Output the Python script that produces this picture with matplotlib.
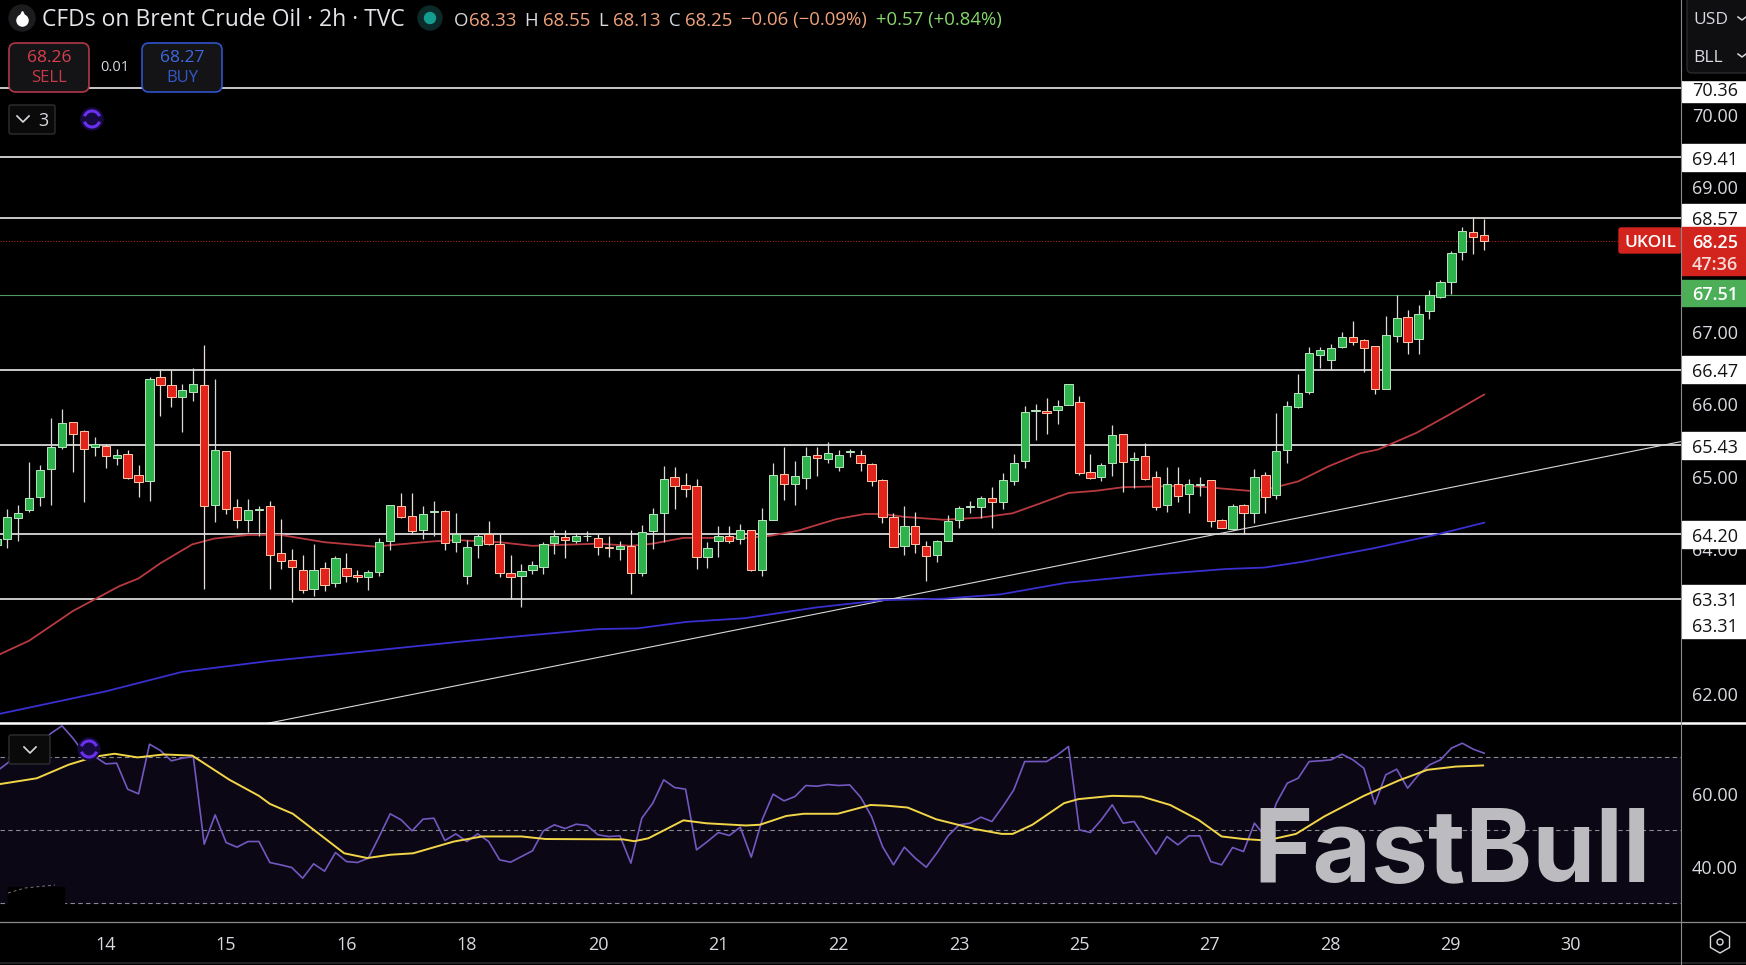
import matplotlib
matplotlib.use('Agg')
import matplotlib.pyplot as plt
from matplotlib.patches import FancyBboxPatch, Rectangle, Circle, RegularPolygon, Arc
import numpy as np

plt.rcParams['font.family'] = ['Open Sans', 'DejaVu Sans']

W, H = 1746, 965

# candles, one row per 2h bar
opens = [64.05, 64.13, 64.43, 64.54, 64.71, 65.10, 65.41, 65.75, 65.63, 65.40, 65.42, 65.26, 65.31, 65.02, 64.93, 66.37, 66.26, 66.10, 66.17, 66.26,
         64.60, 65.35, 64.57, 64.39, 64.54, 64.59, 63.94, 63.85, 63.71, 63.44, 63.73, 63.52, 63.73, 63.64, 63.61, 63.68, 64.10, 64.59, 64.45, 64.26,
         64.51, 64.52, 64.09, 63.62, 64.05, 64.20, 64.07, 63.67, 63.63, 63.70, 63.75, 64.08, 64.16, 64.11, 64.17, 64.15, 64.02, 64.00, 64.04, 63.67,
         64.25, 64.49, 64.99, 64.88, 64.86, 63.89, 64.10, 64.18, 64.13, 64.26, 63.71, 64.40, 65.03, 64.90, 64.98, 65.30, 65.24, 65.13, 65.34, 65.30,
         65.17, 64.95, 64.44, 64.04, 64.32, 64.04, 63.92, 64.11, 64.39, 64.58, 64.58, 64.70, 64.65, 64.94, 65.21, 65.90, 65.90, 65.91, 65.99, 66.02,
         65.06, 64.99, 65.18, 65.58, 65.23, 65.28, 64.99, 64.60, 64.90, 64.75, 64.88, 64.95, 64.39, 64.27, 64.60, 64.50, 65.02, 64.74, 65.37, 65.96,
         66.16, 66.68, 66.61, 66.78, 66.92, 66.88, 66.80, 66.21, 66.94, 67.20, 66.89, 67.28, 67.47, 67.69, 68.10, 68.37, 68.33]
highs = [64.24, 64.55, 64.60, 65.20, 65.16, 65.80, 65.93, 65.75, 65.64, 65.54, 65.45, 65.38, 65.37, 65.16, 66.37, 66.47, 66.47, 66.28, 66.50, 66.82,
         66.34, 65.35, 64.68, 64.69, 64.59, 64.66, 64.41, 63.99, 63.92, 64.06, 63.82, 63.90, 63.94, 63.70, 63.70, 64.15, 64.60, 64.77, 64.77, 64.59,
         64.66, 64.53, 64.49, 64.12, 64.20, 64.38, 64.21, 63.92, 63.79, 63.83, 64.09, 64.26, 64.26, 64.22, 64.25, 64.21, 64.17, 64.11, 64.26, 64.33,
         64.56, 65.14, 65.13, 65.04, 64.96, 64.09, 64.31, 64.31, 64.34, 64.26, 64.56, 65.18, 65.41, 65.21, 65.41, 65.40, 65.47, 65.36, 65.38, 65.36,
         65.19, 64.96, 64.49, 64.59, 64.51, 64.11, 64.12, 64.47, 64.59, 64.66, 64.73, 64.85, 65.05, 65.31, 65.97, 66.00, 66.08, 66.06, 66.28, 66.11,
         65.31, 65.19, 65.71, 65.58, 65.34, 65.46, 65.07, 65.13, 65.13, 64.96, 64.99, 64.95, 64.41, 64.62, 64.62, 65.10, 65.06, 65.88, 66.04, 66.41,
         66.78, 66.78, 66.83, 67.00, 67.14, 66.89, 66.80, 67.21, 67.50, 67.30, 67.36, 67.58, 67.71, 68.11, 68.45, 68.58, 68.55]
lows = [63.99, 64.01, 64.10, 64.51, 64.59, 64.61, 65.38, 65.06, 64.64, 65.28, 65.12, 65.15, 64.96, 64.71, 64.66, 65.83, 65.96, 65.61, 66.04, 63.44,
        64.37, 64.48, 64.28, 64.23, 64.18, 63.45, 63.72, 63.27, 63.39, 63.35, 63.42, 63.47, 63.54, 63.54, 63.43, 63.62, 63.98, 64.42, 64.21, 64.14,
        64.18, 63.98, 63.96, 63.51, 63.87, 64.05, 63.61, 63.31, 63.20, 63.65, 63.65, 63.93, 63.87, 64.08, 64.11, 63.91, 63.88, 63.85, 63.37, 63.63,
        63.99, 64.09, 64.55, 64.72, 63.72, 63.74, 63.89, 64.08, 64.07, 63.69, 63.62, 64.39, 64.67, 64.61, 64.83, 65.00, 65.19, 65.08, 65.27, 65.08,
        64.87, 64.35, 64.03, 63.91, 63.94, 63.55, 63.82, 64.10, 64.28, 64.50, 64.43, 64.29, 64.55, 64.88, 65.11, 65.50, 65.59, 65.72, 65.99, 65.02,
        64.97, 64.94, 65.01, 64.78, 64.84, 64.95, 64.54, 64.51, 64.65, 64.49, 64.73, 64.30, 64.28, 64.26, 64.20, 64.35, 64.50, 64.69, 65.18, 65.94,
        66.14, 66.50, 66.47, 66.77, 66.82, 66.44, 66.14, 66.20, 66.85, 66.69, 66.69, 67.17, 67.46, 67.52, 67.99, 68.07, 68.13]
closes = [64.14, 64.44, 64.50, 64.70, 65.09, 65.41, 65.74, 65.59, 65.38, 65.45, 65.28, 65.30, 64.98, 64.92, 66.34, 66.26, 66.09, 66.19, 66.27, 64.59,
          65.37, 64.55, 64.39, 64.54, 64.55, 63.91, 63.83, 63.75, 63.43, 63.70, 63.50, 63.87, 63.62, 63.61, 63.68, 64.09, 64.60, 64.44, 64.24, 64.48,
          64.51, 64.08, 64.20, 64.03, 64.18, 64.06, 63.67, 63.61, 63.69, 63.77, 64.07, 64.17, 64.12, 64.18, 64.18, 64.03, 64.01, 64.04, 63.66, 64.23,
          64.48, 64.96, 64.86, 64.83, 63.88, 64.01, 64.18, 64.11, 64.26, 63.70, 64.39, 65.02, 64.89, 65.00, 65.28, 65.26, 65.32, 65.30, 65.34, 65.18,
          64.94, 64.44, 64.03, 64.31, 64.07, 63.90, 64.10, 64.38, 64.56, 64.58, 64.70, 64.64, 64.95, 65.18, 65.89, 65.90, 65.88, 65.97, 66.28, 65.05,
          64.98, 65.16, 65.57, 65.20, 65.25, 64.97, 64.58, 64.90, 64.73, 64.90, 64.88, 64.38, 64.29, 64.59, 64.50, 64.99, 64.72, 65.35, 65.97, 66.15,
          66.70, 66.74, 66.77, 66.93, 66.86, 66.77, 66.20, 66.95, 67.18, 66.86, 67.24, 67.51, 67.68, 68.08, 68.39, 68.30, 68.25]

# moving averages and trend line (bar index, price)
ma_red_x = [0, 3, 7, 9.1, 11.2, 13, 15, 17.9, 19.9, 23, 26, 30, 34.6, 39.8, 42, 46, 49, 55, 58, 60, 62.8, 65.6, 68.7, 70.8, 73.3, 76.8, 79.4, 81, 83, 86.6,
            90, 92.9, 95.3, 98, 100.5, 103, 105.8, 109, 114.5, 115.9, 119, 121.8, 124.7, 126.3, 129.8, 132.9, 136]
ma_red_y = [62.52, 62.73, 63.14, 63.31, 63.48, 63.59, 63.80, 64.06, 64.14, 64.19, 64.19, 64.09, 64.03, 64.10, 64.12, 64.09, 64.04, 64.07, 64.04, 64.07, 64.15, 64.15, 64.15, 64.18, 64.25, 64.41, 64.48, 64.48, 64.44, 64.40,
            64.43, 64.49, 64.62, 64.77, 64.80, 64.85, 64.86, 64.87, 64.80, 64.81, 64.93, 65.14, 65.32, 65.37, 65.60, 65.86, 66.13]
ma_blue_x = [0, 10, 17, 25, 31, 43.3, 55, 58.6, 63.1, 68.4, 75, 81, 86.6, 91.8, 97.8, 105.5, 112.4, 115.9, 119.4, 126, 131.5, 136]
ma_blue_y = [61.71, 62.03, 62.30, 62.45, 62.54, 62.73, 62.89, 62.90, 62.99, 63.04, 63.19, 63.29, 63.31, 63.37, 63.53, 63.64, 63.72, 63.74, 63.82, 64.01, 64.19, 64.36]
trend_x = [24.5, 154]
trend_y = [61.58, 65.48]

levels = [70.36, 69.41, 68.57, 66.47, 65.43, 64.20, 63.31]
level_labels = ['70.36', '69.41', '68.57', '66.47', '65.43', '64.20', '63.31']
price_ticks = [70, 69, 67, 66, 65, 64, 62]
last_price = 68.25
green_level = 67.51

# RSI pane
rsi = [65.94, 68.2, 70.95, 71.86, 73.68, 76.4, 78.42, 75.05, 70.95, 70.04, 68.03, 68.22, 61.12, 59.84, 73.41, 71.68, 68.86, 69.58, 70.04, 46.09,
       54.1, 46.54, 45.27, 46.82, 46.82, 41.08, 40.44, 39.71, 36.8, 40.72, 38.71, 43.81, 41.35, 41.08, 42.26, 48.18, 54.38, 52.74, 49.73, 52.92,
       53.19, 47.09, 48.91, 46.82, 48.91, 46.82, 41.81, 41.17, 42.72, 44.27, 49.73, 51.37, 50.37, 51.55, 51.19, 48.64, 48.18, 48.37, 40.9, 53.19,
       57.29, 63.67, 61.57, 61.12, 44.54, 46.82, 49.28, 48.46, 50.73, 42.54, 52.74, 59.75, 57.93, 59.11, 62.12, 61.93, 62.39, 62.12, 62.3, 58.93,
       53.65, 45.45, 40.44, 45.27, 42.26, 39.8, 43.81, 48.37, 51.37, 51.83, 53.47, 52.28, 56.38, 60.93, 68.67, 68.67, 68.67, 70.5, 72.77, 50.0,
       49.28, 52.74, 56.83, 51.83, 52.28, 47.73, 43.36, 48.18, 45.91, 48.37, 48.37, 41.35, 40.44, 45.18, 44.08, 51.83, 48.18, 57.29, 62.75, 64.12,
       68.67, 68.86, 69.13, 70.68, 69.13, 66.85, 57.02, 65.03, 66.58, 61.39, 65.03, 67.76, 69.13, 72.32, 73.68, 72.04, 70.95]
rsi_ma_x = [0.3, 3.7, 6.6, 9, 10.8, 12.9, 15.3, 17.9, 21.3, 24, 25, 27.1, 31.8, 33.9, 36, 38.1, 41.8, 44.4, 48, 50.2, 57.3, 58.3, 59.6, 62.8, 64.9, 68.5, 69.8, 72.2, 73.8, 76.9,
            79.9, 81.4, 83.3, 85.9, 89.5, 91.9, 92.9, 94.7, 97.6, 98.9, 102, 104.7, 107.3, 109.9, 112, 114, 116.1, 118.8, 121.4, 125, 128.2, 130.8, 133.4, 135.9]
rsi_ma_y = [62.5, 64.1, 67.8, 70.0, 70.8, 69.8, 70.6, 70.3, 63.7, 59.3, 57.1, 54.4, 43.6, 42.3, 43.2, 43.6, 46.8, 48.2, 48.2, 47.5, 47.4, 46.9, 47.7, 52.6, 51.8, 51.2, 51.4, 53.8, 54.4, 54.4,
            56.8, 56.6, 56.1, 52.9, 50.2, 48.9, 48.9, 51.4, 57.3, 58.4, 59.3, 59.1, 56.8, 52.7, 48.2, 47.5, 47.1, 48.9, 53.7, 59.3, 63.5, 66.4, 67.3, 67.6]
rsi_ticks = [60, 40]
rsi_bands = [70, 50, 30]

day_pos = [10, 21, 32, 43, 55, 66, 77, 88, 99, 110.9, 121.9, 132.9, 143.9]
day_labels = ['14', '15', '16', '18', '20', '21', '22', '23', '25', '27', '28', '29', '30']

UP = '#2eb24c'
DOWN = '#e0241b'
TXT = '#d8dae0'
DY = 2.5  # Open Sans sits a little high with va=center

fig = plt.figure(figsize=(W / 100, H / 100), dpi=100, facecolor='black')


def pane(y0, y1):
    a = fig.add_axes([0, 1 - y1 / H, 1681 / W, (y1 - y0) / H], facecolor='black')
    a.set_xlim(0.333, 153.99)
    a.set_xticks([])
    a.set_yticks([])
    for s in a.spines.values():
        s.set_visible(False)
    return a


ax = pane(0, 723)
ax.set_ylim(61.593, 71.579)
ax2 = pane(723, 921)
ax2.set_ylim(25.1, 79.2)

# levels under the candles
for lv in levels:
    ax.axhline(lv, color='white', lw=1.1, zorder=1)
ax.axhline(green_level, color='#4f9a5e', lw=0.8, zorder=1)
ax.axhline(last_price, color='#a8241f', lw=0.8, ls=(0, (1, 1.5)), zorder=1)

ax.plot(trend_x, trend_y, color='#d8d8d8', lw=0.8, zorder=2)
ax.plot(ma_blue_x, ma_blue_y, color='#3a2fd0', lw=1.3, zorder=2)
ax.plot(ma_red_x, ma_red_y, color='#b83a40', lw=1.3, zorder=2)

# candles
for i in range(len(opens)):
    up = closes[i] >= opens[i]
    ax.vlines(i, lows[i], highs[i], color='#d9d9d9' if up else '#e8e0d8', lw=0.9, zorder=3)
    lo = min(opens[i], closes[i])
    hi = max(opens[i], closes[i])
    ax.add_patch(Rectangle((i - 0.38, lo), 0.76, max(hi - lo, 0.012),
                           facecolor=UP if up else DOWN,
                           edgecolor='#b8e6c0' if up else '#ffc9a8', lw=0.7, zorder=4))

# RSI
ax2.axhspan(rsi_bands[2], rsi_bands[0], color='#0b0715', zorder=0)
for b in rsi_bands:
    ax2.axhline(b, color='#8a8a8e', lw=0.8, ls=(0, (4, 3)), zorder=1)
ax2.plot(range(len(rsi)), rsi, color='#7358c0', lw=1.2, zorder=2)
ax2.plot(rsi_ma_x, rsi_ma_y, color='#f2d648', lw=1.4, zorder=3)

# everything else sits on a pixel overlay
ov = fig.add_axes([0, 0, 1, 1], facecolor='none')
ov.set_xlim(0, W)
ov.set_ylim(H, 0)
ov.axis('off')

ov.plot([0, W], [723, 723], color='white', lw=1.8)
ov.plot([0, W], [921.5, 921.5], color='#8a8a8a', lw=0.9)
ov.plot([0, W], [962.5, 962.5], color='#2a2a2e', lw=1.2)
ov.plot([1681, 1681], [0, 965], color='#8a8a8a', lw=0.8, zorder=9)


def py(p):
    return ax.transData.transform((0, p))[1] * -1 + H


def ry(r):
    return ax2.transData.transform((0, r))[1] * -1 + H


def refresh_icon(x, y, z=8):
    ov.add_patch(Circle((x, y), 11, color='#160a40', zorder=z))
    ov.add_patch(Arc((x, y), 16, 16, theta1=20, theta2=160, ec='#6a30f0', lw=2.2, zorder=z + 1))
    ov.add_patch(Arc((x, y), 16, 16, theta1=200, theta2=340, ec='#6a30f0', lw=2.2, zorder=z + 1))


# price scale
for t in price_ticks:
    ov.text(1715, py(t) + DY, '%.2f' % t, color=TXT, fontsize=13, ha='center', va='center')
for t in rsi_ticks:
    ov.text(1715, ry(t) + DY, '%.2f' % t, color=TXT, fontsize=13, ha='center', va='center')
for lv, s in zip(levels, level_labels):
    ov.add_patch(Rectangle((1682, py(lv) - 13.5), 64, 27, color='white', zorder=5))
    ov.text(1715, py(lv) + DY, s, color='#131313', fontsize=13, ha='center', va='center', zorder=6)
# second 63.31 tag just below
ov.add_patch(Rectangle((1682, 611), 64, 27, color='white', zorder=5))
ov.text(1715, 625 + DY, level_labels[-1], color='#131313', fontsize=13, ha='center', va='center', zorder=6)

ov.add_patch(Rectangle((1682, 227), 64, 48, color='#d3231d', zorder=5))
ov.text(1715, 240 + DY, '%.2f' % last_price, color='white', fontsize=13, weight='semibold', ha='center', va='center', zorder=6)
ov.text(1715, 262 + DY, '47:36', color='#f6dcd8', fontsize=13, weight='semibold', ha='center', va='center', zorder=6)
ov.add_patch(Rectangle((1682, 280), 64, 26, color='#4caf58', zorder=5))
ov.text(1715, 293 + DY, '%.2f' % green_level, color='white', fontsize=13, weight='semibold', ha='center', va='center', zorder=6)
ov.add_patch(FancyBboxPatch((1619, 228), 62, 25, boxstyle='round,pad=0,rounding_size=2', color='#d3231d', zorder=5))
ov.text(1650, 240.5 + DY, 'UKOIL', color='white', fontsize=12.5, weight='semibold', ha='center', va='center', zorder=6)

# days
for d, s in zip(day_pos, day_labels):
    ov.text(ax.transData.transform((d, 65))[0], 942 + DY, s, color=TXT, fontsize=13, ha='center', va='center')

# settings hexagon
ov.add_patch(RegularPolygon((1720, 942), 6, radius=11, fill=False, ec=TXT, lw=1))
ov.add_patch(Circle((1720, 942), 3, fill=False, ec=TXT, lw=1))

# header
ov.add_patch(Circle((22, 18), 13, color='#1c1c1f'))
ov.plot([22], [20], marker='o', ms=8, color='white')
ov.plot([22], [15], marker='^', ms=6, color='white')
ov.text(42, 18 + DY, 'CFDs on Brent Crude Oil · 2h · TVC', color='#e3e4e8', fontsize=16.5, va='center')
ov.add_patch(Circle((430, 18), 12, color='#0c2a2a'))
ov.add_patch(Circle((430, 18), 5.5, color='#159c90'))
hx = 454
parts = [('O', TXT), ('68.33', '#f0a37c'), (' H', TXT), ('68.55', '#f0a37c'), (' L', TXT), ('68.13', '#f0a37c'), (' C', TXT), ('68.25', '#f0a37c'),
         (' −0.06 (−0.09%)', '#f0a37c'), (' +0.57 (+0.84%)', '#86d96a')]
r = fig.canvas.get_renderer()
for s, c in parts:
    t = ov.text(hx, 18 + DY, s, color=c, fontsize=13.4, va='center')
    hx = t.get_window_extent(r).x1 + (4 if s.startswith(' ') or s[0].isdigit() else 0)

# sell / buy
ov.add_patch(FancyBboxPatch((9, 43), 80, 49, boxstyle='round,pad=0,rounding_size=7', fc='#141417', ec='#b0374a', lw=1.2, zorder=5))
ov.text(49, 56 + DY, '68.26', color='#d8404f', fontsize=12.5, weight='medium', ha='center', va='center', zorder=6)
ov.text(49, 76 + DY, 'SELL', color='#c93a48', fontsize=12, ha='center', va='center', zorder=6)
ov.text(115, 65 + DY, '0.01', color=TXT, fontsize=10.5, ha='center', va='center', zorder=6)
ov.add_patch(FancyBboxPatch((142, 43), 80, 49, boxstyle='round,pad=0,rounding_size=7', fc='#141417', ec='#2f52c8', lw=1.2, zorder=5))
ov.text(182, 56 + DY, '68.27', color='#3f68dd', fontsize=12.5, weight='medium', ha='center', va='center', zorder=6)
ov.text(182, 76 + DY, 'BUY', color='#3558c9', fontsize=12, ha='center', va='center', zorder=6)

# collapse button
ov.add_patch(FancyBboxPatch((9, 105), 46, 29, boxstyle='round,pad=0,rounding_size=2', fc='#0a0a0a', ec='#2e2e32', lw=1))
ov.plot([17, 23, 29], [116, 122, 116], color=TXT, lw=1.2)
ov.text(43, 119 + DY, '3', color=TXT, fontsize=13, ha='center', va='center')
refresh_icon(92, 119)
ov.add_patch(FancyBboxPatch((9, 735), 41, 29, boxstyle='round,pad=0,rounding_size=2', fc='#0a0a0a', ec='#2e2e32', lw=1, zorder=7))
ov.plot([24, 30, 36], [747, 753, 747], color=TXT, lw=1.2, zorder=8)
refresh_icon(89, 749)

# patch of the RSI legend bottom left, hides the band
ov.add_patch(Rectangle((8, 887), 56, 18, color='#000000', zorder=7))
ov.plot([8, 25, 55], [893, 888, 885], color='#777777', lw=0.7, ls=(0, (3, 3)), zorder=8)

# currency box
ov.add_patch(Rectangle((1682, 0), 64, 80, color='black', zorder=7))
ov.add_patch(FancyBboxPatch((1687, -4), 70, 77, boxstyle='round,pad=0,rounding_size=5', fc='#0f0f11', ec='#2a2a2e', lw=1, zorder=8))
ov.text(1693, 18 + DY, 'USD', color=TXT, fontsize=12.5, va='center', zorder=9)
ov.text(1693, 55 + DY, 'BLL', color=TXT, fontsize=12.5, va='center', zorder=9)
for cy in (18, 55):
    ov.plot([1738, 1742, 1746], [cy - 1, cy + 2, cy - 1], color=TXT, lw=1.1, zorder=9)

# watermark
ov.text(1253, 882, 'FastBull', color='#bcbcc0', fontsize=73, weight='bold', family='Inter', va='baseline', zorder=7)

fig.savefig('out.png', dpi=100, facecolor='black')
plt.close()
